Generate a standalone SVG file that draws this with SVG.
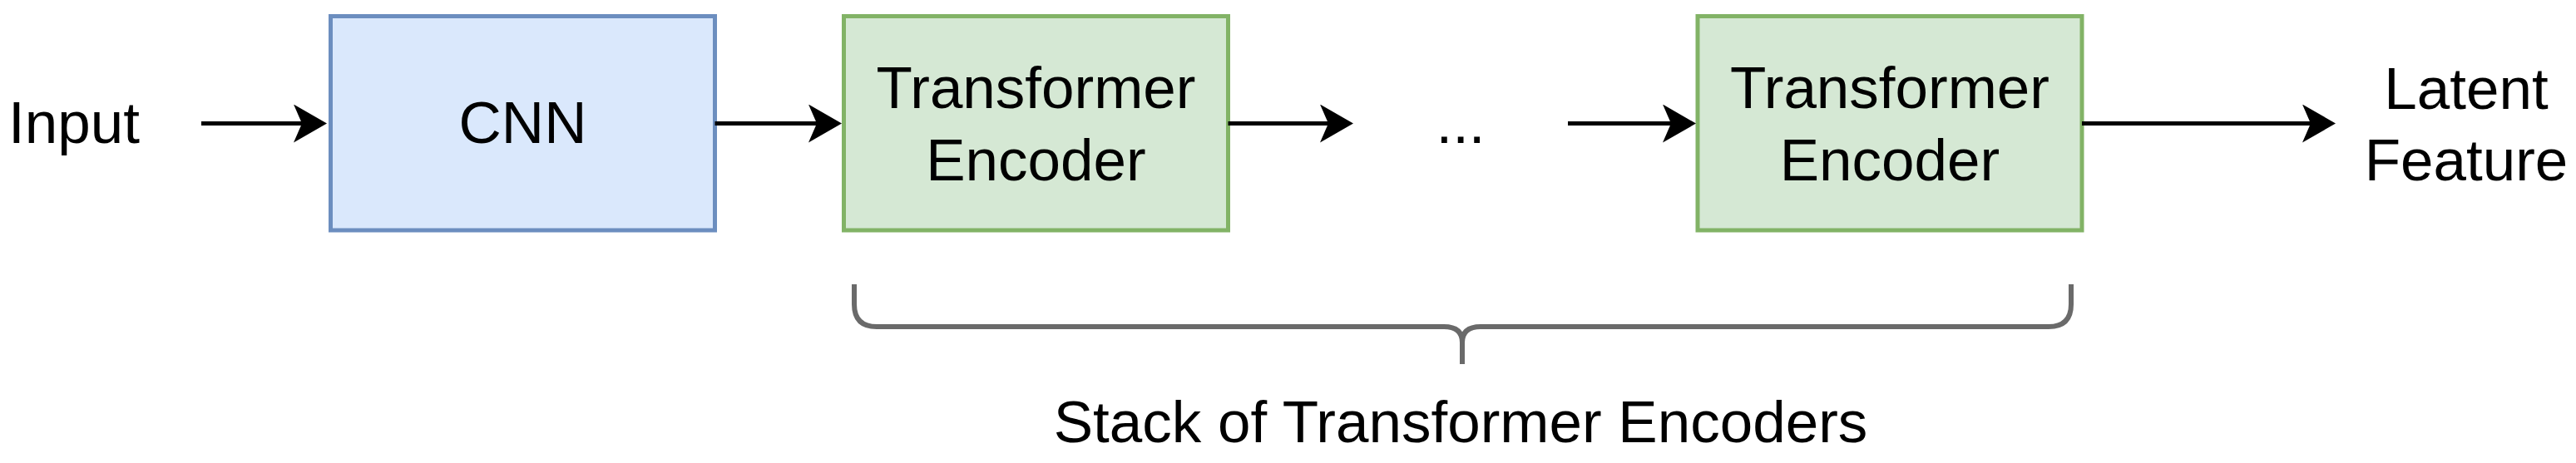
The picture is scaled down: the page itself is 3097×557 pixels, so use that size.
<svg xmlns="http://www.w3.org/2000/svg" width="3097" height="557" viewBox="0 0 3097 557">
  <style>
    text { font-family: "Liberation Sans", Arial, Helvetica, sans-serif; font-size: 71px; fill: #000000; }
    .mid { text-anchor: middle; }
    .blue { fill: #dae8fc; stroke: #6c8ebf; stroke-width: 5; }
    .green { fill: #d5e8d4; stroke: #82b366; stroke-width: 5; }
    .edge { fill: none; stroke: #000000; stroke-width: 5; marker-end: url(#arrow); }
    .brace { fill: none; stroke: #6a6a6a; stroke-width: 6; }
  </style>
  <defs>
    <marker id="arrow" markerUnits="userSpaceOnUse" viewBox="0 0 40 46" refX="20" refY="23" markerWidth="40" markerHeight="46" orient="auto">
      <path d="M0,0 L40,23 L0,46 L10,23 Z" fill="#000000"/>
    </marker>
  </defs>

  <g id="input-label">
    <text x="10" y="172">Input</text>
  </g>

  <g id="cnn">
    <rect class="blue" x="397.5" y="19.5" width="462" height="257.5"/>
    <text class="mid" x="628.5" y="172">CNN</text>
  </g>

  <g id="encoder-1">
    <rect class="green" x="1014.5" y="19.5" width="462" height="257.5"/>
    <text class="mid" x="1245.5" y="130">Transformer</text>
    <text class="mid" x="1245.5" y="217">Encoder</text>
  </g>

  <g id="ellipsis">
    <text class="mid" x="1756" y="172">...</text>
  </g>

  <g id="encoder-2">
    <rect class="green" x="2041" y="19.5" width="462" height="257.5"/>
    <text class="mid" x="2272" y="130">Transformer</text>
    <text class="mid" x="2272" y="217">Encoder</text>
  </g>

  <g id="latent-feature">
    <text class="mid" x="2965" y="131">Latent</text>
    <text class="mid" x="2965" y="217">Feature</text>
  </g>

  <g id="stack-brace">
    <path class="brace" d="M1027,342 L1027,366 Q1027,393 1054,393 L1736,393 Q1758,393 1758,412 L1758,438 M1758,412 Q1758,393 1780,393 L2463,393 Q2490,393 2490,366 L2490,342"/>
    <text class="mid" x="1756" y="532">Stack of Transformer Encoders</text>
  </g>

  <g id="connectors">
    <line class="edge" x1="242" y1="148.5" x2="373" y2="148.5"/>
    <line class="edge" x1="859.5" y1="148.5" x2="992" y2="148.5"/>
    <line class="edge" x1="1476.5" y1="148.5" x2="1607" y2="148.5"/>
    <line class="edge" x1="1885" y1="148.5" x2="2019" y2="148.5"/>
    <line class="edge" x1="2503" y1="148.5" x2="2788" y2="148.5"/>
  </g>
</svg>
